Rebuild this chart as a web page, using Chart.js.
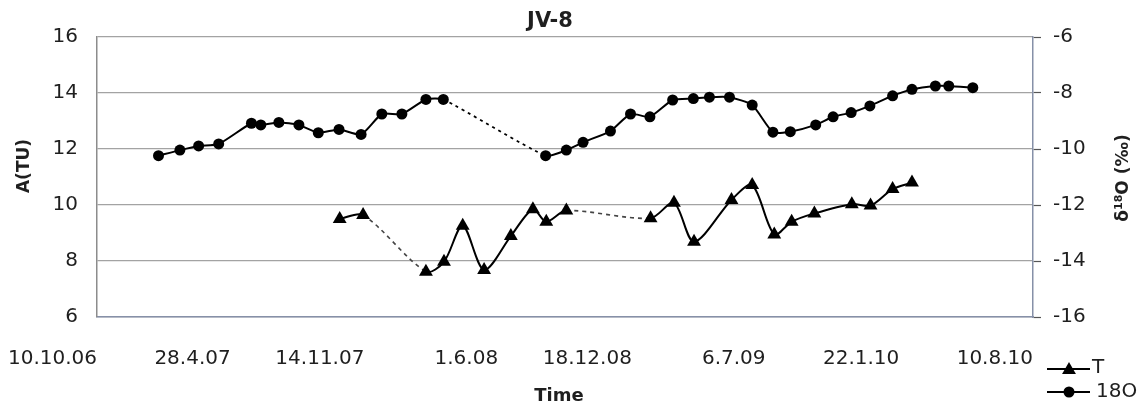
<!DOCTYPE html>
<html><head><meta charset="utf-8">
<script src="https://cdn.jsdelivr.net/npm/chart.js@4.4.1/dist/chart.umd.min.js"></script>
<style>html,body{margin:0;padding:0;background:#fff}#wrap{width:1144px;height:409px;position:relative}</style>
</head><body><div id="wrap"><canvas id="c"></canvas></div>
<script>
const startDate = '2006-10-10';
const tickLabels = ['10.10.06','28.4.07','14.11.07','1.6.08','18.12.08','6.7.09','22.1.10','10.8.10'];

const tDates = ['2007-10-08','2007-11-12','2008-02-14','2008-03-12','2008-04-09','2008-05-11','2008-06-20','2008-07-23','2008-08-12','2008-09-11','2009-01-15','2009-02-19','2009-03-21','2009-05-16','2009-06-16','2009-07-19','2009-08-14','2009-09-17','2009-11-12','2009-12-10','2010-01-12','2010-02-10'];
const tValues = [9.50,9.64,7.62,7.97,9.26,7.68,8.89,9.85,9.40,9.80,9.53,10.08,8.69,10.18,10.71,8.95,9.40,9.70,10.03,9.98,10.57,10.80];

const oDates = ['2007-01-10','2007-02-11','2007-03-11','2007-04-10','2007-05-29','2007-06-12','2007-07-09','2007-08-08','2007-09-06','2007-10-07','2007-11-09','2007-12-10','2008-01-09','2008-02-14','2008-03-11','2008-08-11','2008-09-11','2008-10-06','2008-11-16','2008-12-16','2009-01-14','2009-02-17','2009-03-20','2009-04-13','2009-05-13','2009-06-16','2009-07-17','2009-08-12','2009-09-19','2009-10-15','2009-11-11','2009-12-09','2010-01-12','2010-02-10','2010-03-17','2010-04-06','2010-05-12'];
const oValues = [-10.24,-10.04,-9.89,-9.82,-9.08,-9.14,-9.05,-9.14,-9.42,-9.30,-9.48,-8.75,-8.75,-8.23,-8.23,-10.24,-10.04,-9.76,-9.36,-8.75,-8.85,-8.25,-8.20,-8.15,-8.15,-8.43,-9.40,-9.38,-9.14,-8.85,-8.70,-8.46,-8.10,-7.87,-7.75,-7.75,-7.81];

const FONT = '"DejaVu Sans"';
const TXT = '#1f1f1f';
const dayOf = s => (Date.parse(s) - Date.parse(startDate)) / 86400000;
const pts = (d, v) => d.map((s, i) => ({x: dayOf(s), y: v[i]}));
const isGap = ctx => (ctx.p1.parsed.x - ctx.p0.parsed.x) > 90;

const textPlugin = {
  id: 'texts',
  afterDraw(chart) {
    const ctx = chart.ctx;
    ctx.save();
    ctx.fillStyle = TXT;
    ctx.textAlign = 'center';
    ctx.textBaseline = 'middle';
    ctx.font = 'bold 21px ' + FONT;
    ctx.fillText('JV-8', 550, 22);
    ctx.font = 'bold 18px ' + FONT;
    ctx.fillText('Time', 559, 396);
    ctx.save();
    ctx.translate(25, 166); ctx.rotate(-Math.PI / 2);
    ctx.font = 'bold 17px ' + FONT;
    ctx.fillText('A(TU)', 0, 0);
    ctx.restore();
    ctx.save();
    ctx.translate(1124, 178); ctx.rotate(-Math.PI / 2);
    ctx.textAlign = 'left';
    const big = 'bold 17px ' + FONT, small = 'bold 11px ' + FONT;
    ctx.font = big; const w1 = ctx.measureText('δ').width; const w3 = ctx.measureText('O (‰)').width;
    ctx.font = small; const w2 = ctx.measureText('18').width;
    let x0 = -(w1 + w2 + w3) / 2;
    ctx.font = big; ctx.fillText('δ', x0, 0); x0 += w1;
    ctx.font = small; ctx.fillText('18', x0, -5); x0 += w2;
    ctx.font = big; ctx.fillText('O (‰)', x0, 0);
    ctx.restore();
    // legend
    ctx.strokeStyle = '#000'; ctx.lineWidth = 2;
    ctx.beginPath(); ctx.moveTo(1047, 369); ctx.lineTo(1090, 369); ctx.stroke();
    ctx.beginPath(); ctx.moveTo(1047, 392); ctx.lineTo(1090, 392); ctx.stroke();
    ctx.fillStyle = '#000';
    const r = 8, cx = 1069, cy = 370;
    ctx.beginPath();
    ctx.moveTo(cx, cy - r);
    ctx.lineTo(cx + r * 0.866, cy + r / 2);
    ctx.lineTo(cx - r * 0.866, cy + r / 2);
    ctx.closePath(); ctx.fill();
    ctx.beginPath(); ctx.arc(1069, 392, 5.5, 0, Math.PI * 2); ctx.fill();
    ctx.fillStyle = TXT;
    ctx.textAlign = 'left';
    ctx.font = '20px ' + FONT;
    ctx.fillText('T', 1092, 368);
    ctx.fillText('18O', 1096, 392);
    ctx.restore();
  }
};

new Chart(document.getElementById('c'), {
  type: 'line',
  data: {
    datasets: [
      {
        label: 'T', yAxisID: 'y', data: pts(tDates, tValues),
        borderColor: '#000', backgroundColor: '#000', borderWidth: 2,
        pointStyle: 'triangle', pointRadius: 8, pointBorderWidth: 0,
        tension: 0.3,
        segment: {
          borderDash: ctx => isGap(ctx) ? [4, 4] : undefined,
          borderColor: ctx => isGap(ctx) ? '#444' : undefined,
          borderWidth: ctx => isGap(ctx) ? 1.6 : undefined
        }
      },
      {
        label: '18O', yAxisID: 'y2', data: pts(oDates, oValues),
        borderColor: '#000', backgroundColor: '#000', borderWidth: 2,
        pointStyle: 'circle', pointRadius: 5.5, pointBorderWidth: 0,
        tension: 0.2,
        segment: {
          borderDash: ctx => isGap(ctx) ? [3, 4] : undefined,
          borderWidth: ctx => isGap(ctx) ? 1.8 : undefined
        }
      }
    ]
  },
  options: {
    responsive: true, maintainAspectRatio: false, animation: false,
    layout: {padding: {top: 37, left: 0, right: 0, bottom: 0}},
    plugins: {legend: {display: false}, tooltip: {enabled: false}, title: {display: false}},
    scales: {
      x: {
        type: 'linear', position: 'bottom', min: 0, max: 1400,
        afterFit: s => { s.height = 92; s.paddingLeft = 0; s.paddingRight = 0; },
        afterBuildTicks: s => { s.ticks = tickLabels.map((_, i) => ({value: i * 200})); },
        ticks: {
          autoSkip: false, maxRotation: 0, minRotation: 0, align: 'end', padding: 30,
          color: TXT, font: {family: FONT, size: 20},
          callback: (v, i) => tickLabels[i]
        },
        grid: {drawOnChartArea: false, drawTicks: false},
        border: {color: '#8690a8', width: 1.5}
      },
      y: {
        position: 'left', min: 6, max: 16,
        afterFit: s => { s.width = 97; },
        ticks: {stepSize: 2, padding: 19, color: TXT, font: {family: FONT, size: 20}},
        grid: {color: '#a3a3a3', lineWidth: 1.3, drawTicks: false},
        border: {color: '#8c8c8c', width: 1.5}
      },
      y2: {
        position: 'right', min: -16, max: -6,
        afterFit: s => { s.width = 111; },
        ticks: {stepSize: 2, padding: 12, color: TXT, font: {family: FONT, size: 20}},
        grid: {drawOnChartArea: false, drawTicks: true, tickLength: 8, tickColor: '#555', tickWidth: 1.2},
        border: {color: '#8690a8', width: 1.5}
      }
    }
  },
  plugins: [textPlugin]
});
</script>
</body></html>
